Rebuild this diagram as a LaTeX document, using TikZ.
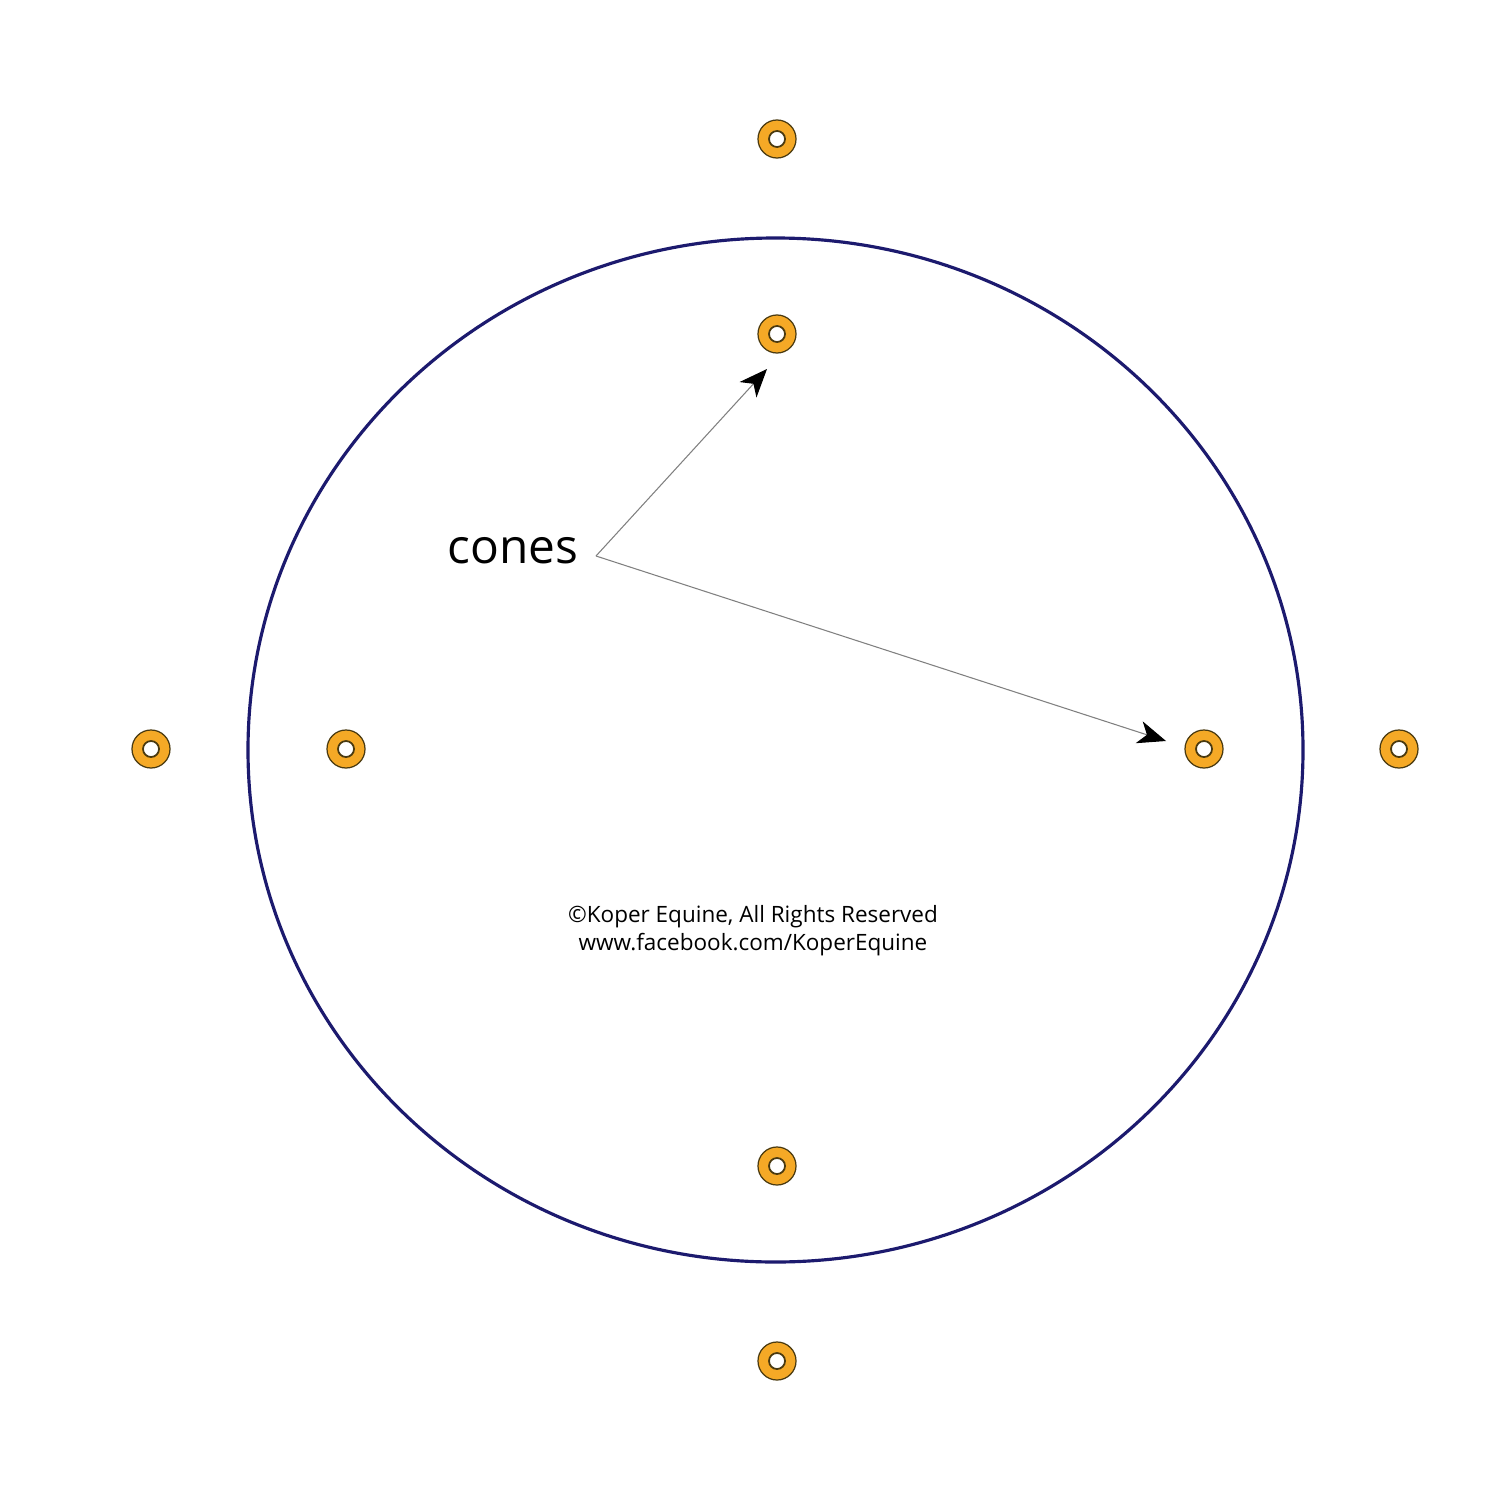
\documentclass[tikz,border=0pt]{standalone}
\usepackage{fontspec}
\setmainfont{Open Sans}
\usetikzlibrary{arrows.meta}
\definecolor{ring}{HTML}{1C1A6E}
\definecolor{conefill}{HTML}{F5A926}
\definecolor{coneedge}{HTML}{4A3A10}
\begin{document}
\begin{tikzpicture}[x=0.01cm,y=-0.01cm,
  cone/.style={circle,draw=coneedge,line width=0.35pt,fill=conefill,minimum size=0.38cm,inner sep=0pt,
    path picture={\fill[white,draw=coneedge,line width=0.5pt] (path picture bounding box.center) circle[radius=0.08cm];}},
  pointer/.style={draw=gray,line width=0.3pt,-{Stealth[length=8pt,width=6.5pt,inset=2.3pt,black]}},
  label/.style={inner sep=0pt,font=\fontsize{13.6pt}{16pt}\selectfont},
  credit/.style={inner sep=0pt,align=center,font=\fontsize{6.4pt}{8pt}\selectfont}]
\useasboundingbox (0,0) rectangle (1500,1500);
\fill[white] (0,0) rectangle (1500,1500);
\draw[ring,line width=0.9pt] (775.5,750) ellipse[x radius=527.5,y radius=512];
\node[cone] (c1) at (777,139) {};
\node[cone] (c2) at (777,334) {};
\node[cone] (c3) at (151,749) {};
\node[cone] (c4) at (346,749) {};
\node[cone] (c5) at (1204,749) {};
\node[cone] (c6) at (1399,749) {};
\node[cone] (c7) at (777,1166) {};
\node[cone] (c8) at (777,1361) {};
\node[label] (lab) at (513,551) {cones};
\coordinate (start) at (596,556);
\coordinate (tipA) at (767,369);
\coordinate (tipB) at (1166,741);
\draw[pointer] (start) -- (tipA);
\draw[pointer] (start) -- (tipB);
\node[credit] (copy) at (753,931) {©Koper Equine, All Rights Reserved\\www.facebook.com/KoperEquine};
\end{tikzpicture}
\end{document}
